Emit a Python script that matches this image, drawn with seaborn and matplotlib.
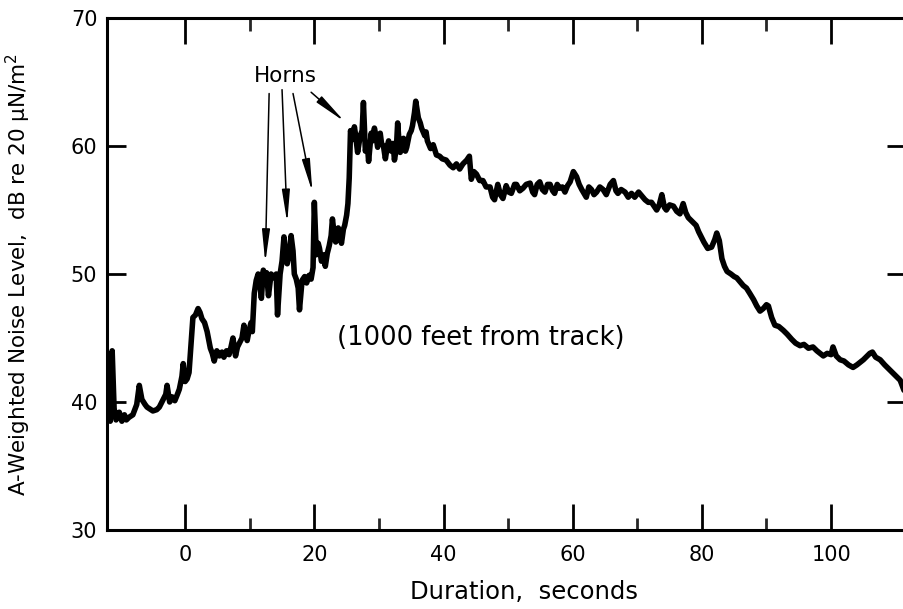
import numpy as np
import pandas as pd
import seaborn as sns
import matplotlib.pyplot as plt
from matplotlib.ticker import MultipleLocator, FixedLocator

# --------- Data ---------
time_s = [
    -12.0, -11.8, -11.6, -11.3, -11.0, -10.7, -10.2, -9.8, -9.4, -9.1,
    -8.7, -8.1, -7.5, -7.1, -6.7, -6.2, -5.9, -5.0, -4.4, -4.0,
    -3.4, -3.0, -2.8, -2.4, -2.0, -1.6, -1.2, -0.9, -0.5, -0.3,
    0.0, 0.3, 0.6, 0.9, 1.2, 1.6, 2.0, 2.3, 2.6, 3.0,
    3.4, 3.9, 4.2, 4.5, 4.9, 5.3, 5.7, 6.0, 6.4, 6.8,
    7.1, 7.4, 7.8, 8.1, 8.4, 8.8, 9.1, 9.4, 9.6, 9.9,
    10.2, 10.4, 10.7, 11.0, 11.3, 11.5, 11.8, 12.1, 12.4, 12.6,
    12.9, 13.3, 13.8, 14.1, 14.3, 14.7, 15.0, 15.3, 15.6, 15.8,
    16.1, 16.4, 16.7, 16.9, 17.2, 17.5, 17.7, 18.1, 18.5, 18.8,
    19.2, 19.5, 19.8, 20.0, 20.3, 20.6, 20.8, 21.1, 21.4, 21.7,
    22.0, 22.3, 22.6, 22.8, 23.1, 23.3, 23.7, 24.0, 24.2, 24.5,
    24.7, 25.0, 25.2, 25.4, 25.6, 25.9, 26.2, 26.4, 26.7, 27.1,
    27.4, 27.6, 27.9, 28.2, 28.4, 28.8, 29.0, 29.3, 29.6, 29.8,
    30.2, 30.4, 30.7, 31.0, 31.3, 31.5, 31.9, 32.2, 32.4, 32.7,
    32.9, 33.1, 33.3, 33.6, 33.8, 34.1, 34.3, 34.7, 35.0, 35.2,
    35.5, 35.7, 36.1, 36.4, 36.6, 37.1, 37.3, 37.5, 38.0, 38.4,
    38.9, 39.4, 39.8, 40.4, 41.0, 41.5, 42.0, 42.5, 43.0, 43.6,
    44.0, 44.3, 44.7, 45.1, 45.6, 46.1, 46.6, 47.2, 47.6, 47.9,
    48.4, 48.8, 49.2, 49.7, 50.1, 50.5, 51.0, 51.3, 51.8, 52.3,
    52.8, 53.4, 53.8, 54.1, 54.5, 54.9, 55.3, 55.7, 56.1, 56.5,
    56.9, 57.2, 57.6, 58.0, 58.4, 58.8, 59.2, 59.6, 60.1, 60.6,
    61.0, 61.4, 62.1, 62.5, 62.9, 63.3, 63.7, 64.2, 64.7, 65.2,
    65.8, 66.3, 66.7, 67.0, 67.5, 68.1, 68.6, 69.1, 69.6, 70.2,
    70.7, 71.2, 71.7, 72.2, 72.6, 73.0, 73.4, 73.8, 74.2, 74.5,
    75.0, 75.6, 76.1, 76.6, 77.1, 77.5, 77.9, 78.3, 78.7, 79.1,
    79.5, 80.3, 80.9, 81.5, 82.0, 82.3, 82.7, 83.1, 83.5, 83.9,
    84.5, 85.0, 85.4, 85.9, 86.4, 86.9, 87.4, 88.0, 88.5, 89.0,
    89.5, 90.0, 90.3, 90.8, 91.3, 91.9, 92.6, 93.2, 93.9, 94.5,
    95.2, 95.8, 96.5, 97.2, 97.8, 98.3, 98.8, 99.4, 100.0, 100.3,
    100.8, 101.4, 102.0, 102.7, 103.4, 104.0, 104.5, 105.0, 105.6, 106.0,
    106.4, 106.9, 107.6, 108.3, 109.1, 109.9, 110.7, 111.3,
]
level_db = [
    39.0, 41.5, 38.5, 44.0, 39.5, 38.6, 39.2, 38.5, 39.0, 38.6,
    38.8, 39.0, 39.8, 41.3, 40.2, 39.8, 39.6, 39.3, 39.4, 39.6,
    40.2, 40.6, 41.3, 40.0, 40.4, 40.1, 40.6, 41.0, 42.0, 43.0,
    41.6, 41.8, 42.3, 44.5, 46.6, 46.8, 47.3, 47.0, 46.5, 46.2,
    45.5, 44.2, 43.8, 43.2, 44.0, 43.6, 43.9, 43.5, 44.0, 43.7,
    44.3, 45.0, 43.6, 44.3, 44.6, 45.0, 46.0, 45.2, 44.8, 45.6,
    46.2, 45.5, 48.5, 49.5, 50.0, 49.6, 48.1, 50.3, 49.8, 50.1,
    48.3, 50.0, 49.7, 50.0, 46.8, 50.0, 51.0, 52.9, 51.2, 50.8,
    51.5, 53.0, 51.8, 50.0, 49.6, 48.9, 47.2, 49.5, 49.8, 49.3,
    49.9, 49.6, 50.5, 55.6, 51.5, 52.4, 52.0, 51.0, 51.5, 50.6,
    51.6, 52.2, 53.0, 54.3, 53.0, 52.5, 53.6, 52.8, 52.4, 53.5,
    53.8, 54.6, 55.5, 57.5, 61.2, 60.5, 61.5, 60.8, 59.5, 60.8,
    61.2, 63.4, 59.6, 60.2, 58.8, 61.0, 60.4, 61.4, 60.6, 59.9,
    61.0, 60.2, 60.0, 59.0, 60.0, 60.4, 59.6, 60.2, 58.9, 59.8,
    61.8, 60.4, 59.5, 60.2, 60.6, 59.6, 59.9, 60.9, 61.2, 61.6,
    62.6, 63.5, 62.2, 61.8, 61.4, 60.8, 61.1, 60.4, 59.8, 60.1,
    59.3, 59.2, 59.0, 58.9, 58.5, 58.3, 58.6, 58.2, 58.6, 58.9,
    59.2, 57.4, 58.0, 57.8, 57.3, 57.3, 56.8, 56.8, 56.0, 55.8,
    57.0, 56.2, 55.9, 56.9, 56.4, 56.3, 57.0, 57.0, 56.5, 56.7,
    57.0, 57.1, 56.4, 56.2, 57.0, 57.2, 56.6, 56.4, 57.0, 57.0,
    56.5, 56.3, 57.0, 56.7, 56.8, 56.4, 56.9, 57.2, 58.0, 57.6,
    57.0, 56.6, 56.0, 56.8, 56.6, 56.2, 56.4, 56.8, 56.6, 56.2,
    57.0, 57.3, 56.5, 56.3, 56.6, 56.4, 56.0, 56.3, 56.0, 56.4,
    56.1, 55.8, 55.6, 55.6, 55.3, 55.0, 55.4, 56.2, 55.2, 55.0,
    55.4, 55.3, 54.9, 54.7, 55.5, 54.8, 54.4, 54.2, 54.0, 53.8,
    53.3, 52.5, 52.0, 52.1, 52.7, 53.2, 52.6, 51.2, 50.6, 50.2,
    50.0, 49.8, 49.7, 49.4, 49.1, 48.9, 48.5, 48.0, 47.5, 47.1,
    47.3, 47.6, 47.5, 46.6, 46.0, 45.9, 45.6, 45.3, 44.9, 44.6,
    44.4, 44.5, 44.2, 44.3, 44.0, 43.8, 43.6, 43.8, 43.7, 44.3,
    43.6, 43.3, 43.2, 42.9, 42.7, 42.9, 43.1, 43.3, 43.6, 43.8,
    43.9, 43.5, 43.3, 42.9, 42.5, 42.1, 41.7, 40.9,
]

# horn arrows: tail (near the label) -> head (on the trace)
horn_tail_x = [13.0, 15.0, 16.7, 19.5]
horn_tail_y = [64.1, 64.4, 64.1, 64.2]
horn_head_x = [12.4, 15.8, 19.7, 24.7]
horn_head_y = [50.9, 54.0, 56.4, 61.9]

x_major = [0, 20, 40, 60, 80, 100]
x_minor = [10, 30, 50, 70, 90]
y_major = [30, 40, 50, 60, 70]

df = pd.DataFrame({"time": time_s, "level": level_db})

# --------- Style ---------
sns.set_theme(style="ticks")
plt.rcParams["font.family"] = ["DejaVu Sans"]
plt.rcParams["mathtext.fontset"] = "dejavusans"

fig = plt.figure(figsize=(9.04, 6.09), dpi=100)
ax = fig.add_axes([107 / 904, 1 - 530 / 609, 799 / 904, 512 / 609])

sns.lineplot(data=df, x="time", y="level", ax=ax, color="black",
             linewidth=4.0, estimator=None, sort=False)

ax.set_xlim(-12.1, 111.6)
ax.set_ylim(30, 70)

for side in ["left", "right", "top", "bottom"]:
    ax.spines[side].set_visible(True)
    ax.spines[side].set_linewidth(2.2)
    ax.spines[side].set_color("black")

ax.xaxis.set_major_locator(FixedLocator(x_major))
ax.xaxis.set_minor_locator(FixedLocator(x_minor))
ax.yaxis.set_major_locator(FixedLocator(y_major))
ax.yaxis.set_minor_locator(FixedLocator([]))

ax.tick_params(axis="x", which="major", direction="in", top=True, bottom=True,
               length=19, width=2, pad=11, labelsize=15, colors="black")
ax.tick_params(axis="x", which="minor", direction="in", top=True, bottom=True,
               length=9, width=2)
ax.tick_params(axis="y", which="major", direction="in", left=True, right=True,
               length=14, width=2, pad=7, labelsize=15, colors="black")

ax.set_xlabel("Duration,  seconds", fontsize=17.5, color="black")
ax.xaxis.set_label_coords(0.522, -0.098)
ax.set_ylabel("A-Weighted Noise Level,  dB re 20 μN/m$^2$", fontsize=15.5, color="black")
ax.yaxis.set_label_coords(-0.092, 0.5)

# --------- Annotations ---------
ax.text(15.5, 65.5, "Horns", fontsize=15.5, ha="center", va="center", color="black")
for tx, ty, hx, hy in zip(horn_tail_x, horn_tail_y, horn_head_x, horn_head_y):
    ax.annotate("", xy=(hx, hy), xytext=(tx, ty),
                arrowprops=dict(arrowstyle="-|>,head_length=1.4,head_width=0.17",
                                color="black", lw=1.1, shrinkA=0, shrinkB=0),
                fontsize=14)

ax.text(45.7, 45.0, "(1000 feet from track)", fontsize=18.5,
        ha="center", va="center", color="black")

fig.savefig("out.png", dpi=100)
